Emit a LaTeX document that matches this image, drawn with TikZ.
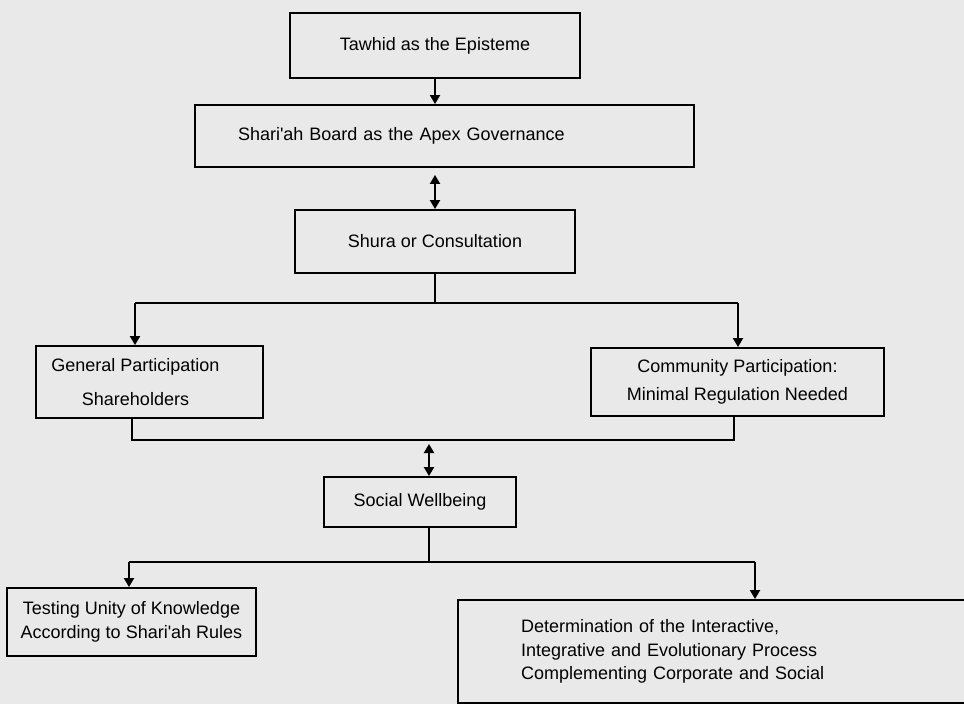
\documentclass[tikz,border=0pt]{standalone}
\usepackage{fontspec}
\setmainfont{Liberation Sans}
\usetikzlibrary{arrows.meta}

\definecolor{paper}{RGB}{233,233,233}

\tikzset{
	box/.style={draw, line width=1.9pt, inner sep=0pt, align=center, font=\fontsize{18}{23.5}\selectfont},
	boxtext/.style={inner sep=0pt, align=center, font=\fontsize{18}{23.5}\selectfont},
	flow/.style={line width=1.9pt},
	tip/.style={-{Triangle[length=9pt,width=10pt]}},
	twotip/.style={{Triangle[length=9pt,width=10pt]}-{Triangle[length=9pt,width=10pt]}}
}

\begin{document}
\begin{tikzpicture}[x=1pt, y=-1pt]

		% paper
		\clip (0,0) rectangle (964,704);
		\fill[paper] (0,0) rectangle (964,704);

		% boxes
		\node[box, minimum width=290, minimum height=65] (tawhid) at (435,45.5) {Tawhid as the Episteme};
		\node[box, minimum width=499, minimum height=62, inner xsep=43pt, text width=413pt, align=left] (shariah) at (444.5,136) {Shari\textquotesingle ah Board as the Apex Governance};
		\node[box, minimum width=280, minimum height=63] (shura) at (435,241.5) {Shura or Consultation};
		\node[box, minimum width=227, minimum height=72,
			label={[boxtext, xshift=-14pt]center:General Participation\\[10.5pt]Shareholders}] (general) at (149.5,382) {};
		\node[box, minimum width=293, minimum height=68] (community) at (737.5,382) {Community Participation:\\[4.5pt]Minimal Regulation Needed};
		\node[box, minimum width=192, minimum height=50] (social) at (420,502) {Social Wellbeing};
		\node[box, minimum width=249, minimum height=68] (testing) at (131.5,622) {Testing Unity of Knowledge\\According to Shari\textquotesingle ah Rules};
		\node[box, minimum width=515, minimum height=103, inner xsep=63pt, text width=389pt, align=left] (determination) at (715.5,651.5) {Determination of the Interactive,\\Integrative and Evolutionary Process\\Complementing Corporate and Social};

		% branch points
		\coordinate (forkA) at (135,303);
		\coordinate (forkB) at (738,303);
		\coordinate (joinA) at (132,440);
		\coordinate (joinB) at (734,440);
		\coordinate (joinmid) at (429,444);
		\coordinate (forkC) at (129,562);
		\coordinate (forkD) at (755,562);

		% top
		\draw[flow, tip] (tawhid.south) -- (tawhid.south |- shariah.north);
		\draw[flow, twotip, shorten <=7pt] (shariah.south -| shura.north) -- (shura.north);

		% split to participation
		\draw[flow] (shura.south) -- (shura.south |- forkA);
		\draw[flow] (forkA) -- (forkB);
		\draw[flow, tip] (forkA) -- (forkA |- general.north);
		\draw[flow, tip] (forkB) -- (forkB |- community.north);

		% join to wellbeing
		\draw[flow] (general.south -| joinA) -- (joinA) -- (joinB) -- (community.south -| joinB);
		\draw[flow, twotip] (joinmid) -- (joinmid |- social.north);

		% split to outcomes
		\draw[flow] (social.south -| joinmid) -- (joinmid |- forkC);
		\draw[flow] (forkC) -- (forkD);
		\draw[flow, tip] (forkC) -- (forkC |- testing.north);
		\draw[flow, tip] (forkD) -- (forkD |- determination.north);

\end{tikzpicture}
\end{document}
